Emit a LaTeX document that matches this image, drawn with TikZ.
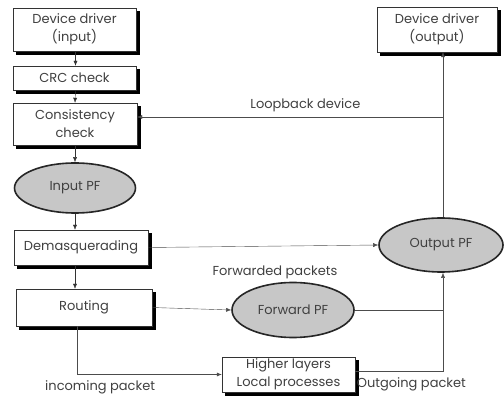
\documentclass[tikz,border=0pt]{standalone}
\usepackage{fontspec}
\setmainfont{Poppins}
\usetikzlibrary{arrows.meta,shapes.geometric}

\begin{document}
\begin{tikzpicture}[x=1pt,y=-1pt,font=\fontsize{13}{18}\selectfont,
  every node/.style={text=black!75},
  box/.style={draw=black!80,fill=white,align=center,inner sep=0pt},
  boxshadow/.style={fill=black,draw=black,inner sep=0pt},
  pf/.style={ellipse,draw=black!85,line width=1.6pt,fill=black!22,inner sep=0pt},
  arr/.style={-{Latex[length=5pt,width=4pt]},black!80},
  ln/.style={black!70,thin}]
\useasboundingbox (0,0) rectangle (504,403);
% shadows behind the boxes
\node[boxshadow,minimum width=123pt,minimum height=43pt] (drvin-sh) at (77.5,32.5) {};
\node[boxshadow,minimum width=123pt,minimum height=24pt] (crc-sh) at (77.5,81) {};
\node[boxshadow,minimum width=124pt,minimum height=42pt] (cons-sh) at (78,127) {};
\node[boxshadow,minimum width=134pt,minimum height=35pt] (demasq-sh) at (84,250.5) {};
\node[boxshadow,minimum width=136pt,minimum height=37pt] (routing-sh) at (87,310.5) {};
\node[boxshadow,minimum width=133pt,minimum height=35pt] (higher-sh) at (291.5,377.5) {};
\node[boxshadow,minimum width=120pt,minimum height=45pt] (drvout-sh) at (440,32.5) {};
% left column
\node[box,minimum width=123pt,minimum height=43pt] (drvin) at (74.5,29.5) {Device driver\\(input)};
\node[box,minimum width=123pt,minimum height=24pt] (crc) at (74.5,78) {CRC check};
\node[box,minimum width=124pt,minimum height=42pt] (cons) at (75,124) {Consistency\\check};
\node[pf,minimum width=121pt,minimum height=50pt] (inpf) at (75,188) {Input PF};
\node[box,minimum width=134pt,minimum height=35pt] (demasq) at (81,247.5) {Demasquerading};
\node[box,minimum width=136pt,minimum height=37pt] (routing) at (84,307.5) {Routing};
% middle and right
\node[box,minimum width=133pt,minimum height=35pt] (higher) at (288.5,374.5) {Higher layers\\Local processes};
\node[pf,minimum width=122pt,minimum height=55pt] (fwdpf) at (293,310) {Forward PF};
\node[pf,minimum width=124pt,minimum height=54pt] (outpf) at (441,245) {Output PF};
\node[box,minimum width=120pt,minimum height=45pt] (drvout) at (437,29.5) {Device driver\\(output)};
\coordinate (loop) at (443,117);
\coordinate (join) at (443,310);

\draw[arr] ([xshift=1pt]drvin.south) -- ([xshift=1pt]crc.north);
\draw[arr] ([xshift=1pt]crc.south) -- (cons.north);
\draw[arr] (cons.south) -- (inpf.north);
\draw[arr] (inpf.south) -- ([xshift=-6pt]demasq.north);
\draw[arr] ([xshift=-6pt]demasq.south) -- ([xshift=-9pt]routing.north);
\draw[arr,ln] (demasq.east) -- (outpf.west);
\draw[arr,ln] (routing.east) -- (fwdpf.west);
\draw[ln] (fwdpf.east) -- (join);
\draw[arr,ln] ([xshift=-7pt]routing.south) |- (higher.west)
  node[pos=0.58,below=3pt] {incoming packet};
\draw[arr,ln] ([yshift=3pt]higher.east) -| ([xshift=2pt]outpf.south)
  node[pos=0.32,below=3pt] {Outgoing packet};
\draw[arr,ln] ([xshift=2pt]outpf.north) -- (drvout.south -| loop);
\draw[arr,ln] (loop) -- (cons.east |- loop)
  node[pos=0.45,above=2pt] {Loopback device};
\node (fwdlab) at (275,272) {Forwarded packets};
\end{tikzpicture}
\end{document}
